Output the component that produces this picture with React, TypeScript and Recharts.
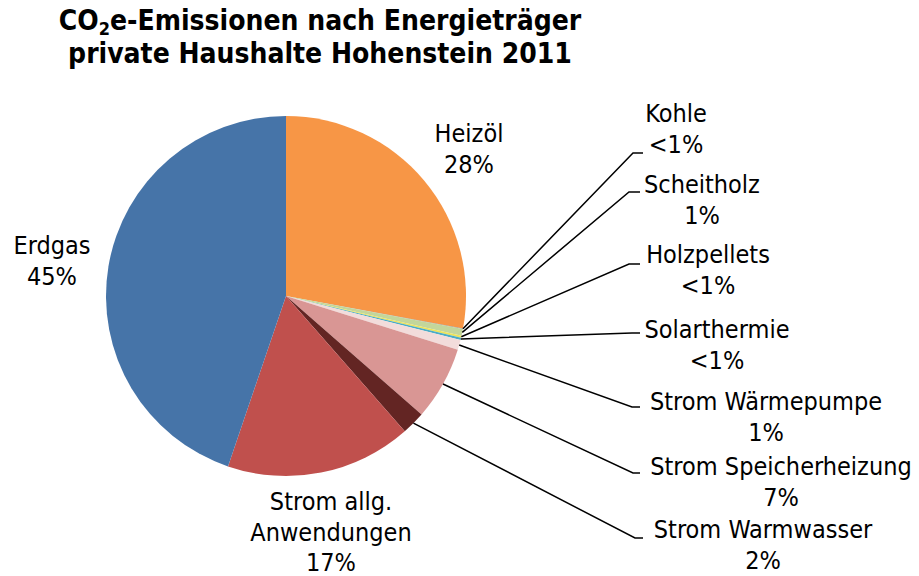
import React from "react";
import { PieChart, Pie, Cell } from "recharts";

// Slices clockwise from 12 o'clock, values in % of total emissions
const CATEGORIES = [
  "Heizöl",
  "Kohle",
  "Scheitholz",
  "Holzpellets",
  "Solarthermie",
  "Strom Wärmepumpe",
  "Strom Speicherheizung",
  "Strom Warmwasser",
  "Strom allg.\nAnwendungen",
  "Erdgas",
];
const SHARES = [27.9, 0.05, 0.6, 0.2, 0.2, 0.9, 6.6, 2.1, 16.7, 44.8];
const COLORS = [
  "#F79646",
  "#8C8C8C",
  "#C3D69B",
  "#EDE35A",
  "#4BACC6",
  "#F2DCDB",
  "#D99694",
  "#632523",
  "#C0504D",
  "#4674A8",
];

// label placement: text centre x, first baseline y, optional leader corner
const LABEL_POS: { x: number; y: number; corner?: [number, number]; tail?: number }[] = [
  { x: 469, y: 142 },
  { x: 676, y: 122, corner: [633, 153], tail: 10 },
  { x: 702, y: 193, corner: [629, 192], tail: 11 },
  { x: 708, y: 263, corner: [629, 264], tail: 11 },
  { x: 717, y: 338, corner: [632, 333], tail: 8 },
  { x: 766, y: 410, corner: [632, 407], tail: 8 },
  { x: 781, y: 475, corner: [633, 473], tail: 7 },
  { x: 763, y: 538, corner: [635, 538], tail: 8 },
  { x: 331, y: 510 },
  { x: 52, y: 254 },
];

const FONT = "'DejaVu Sans Condensed', 'DejaVu Sans', sans-serif";
const LINE_H = 30.5;
const RAD = Math.PI / 180;

const data = CATEGORIES.map((name, i) => ({ name, value: SHARES[i] }));

function fmtPct(v: number) {
  return v < 0.5 ? "<1%" : `${Math.round(v)}%`;
}

function renderLabel(props: any) {
  const { cx, cy, midAngle, outerRadius, index, value } = props;
  const pos = LABEL_POS[index];
  if (!pos) return null;
  const lines = [...String(CATEGORIES[index]).split("\n"), fmtPct(value)];
  let leader = null;
  if (pos.corner) {
    const sx = cx + outerRadius * Math.cos(-midAngle * RAD);
    const sy = cy + outerRadius * Math.sin(-midAngle * RAD);
    const [ex, ey] = pos.corner;
    leader = (
      <path
        d={`M${sx},${sy}L${ex},${ey}L${ex + (pos.tail ?? 8)},${ey}`}
        stroke="#000"
        strokeWidth={1.5}
        fill="none"
      />
    );
  }
  return (
    <g key={`lbl-${index}`}>
      {leader}
      <text x={pos.x} y={pos.y} textAnchor="middle" fontFamily={FONT} fontSize={25} fill="#000">
        {lines.map((t, i) => (
          <tspan key={i} x={pos.x} dy={i === 0 ? 0 : LINE_H}>
            {t}
          </tspan>
        ))}
      </text>
    </g>
  );
}

export default function App() {
  return (
    <div style={{ position: "absolute", left: 0, top: 0, width: 919, height: 576, background: "#fff" }}>
      <div
        style={{
          position: "absolute",
          left: 0,
          top: 4,
          width: 640,
          textAlign: "center",
          fontFamily: FONT,
          fontWeight: "bold",
          fontSize: 28,
          lineHeight: "33px",
          color: "#000",
        }}
      >
        CO<sub style={{ fontSize: 18, verticalAlign: "-5px", lineHeight: 0 }}>2</sub>e-Emissionen nach Energieträger
        <br />
        private Haushalte Hohenstein 2011
      </div>
      <PieChart width={919} height={576} margin={{ top: 0, right: 0, bottom: 0, left: 0 }}>
        <Pie
          data={data}
          dataKey="value"
          nameKey="name"
          cx={286}
          cy={296}
          outerRadius={180}
          startAngle={90}
          endAngle={-270}
          stroke="none"
          labelLine={false}
          label={renderLabel}
          isAnimationActive={false}
        >
          {data.map((d, i) => (
            <Cell key={d.name} fill={COLORS[i]} stroke="none" />
          ))}
        </Pie>
      </PieChart>
    </div>
  );
}
